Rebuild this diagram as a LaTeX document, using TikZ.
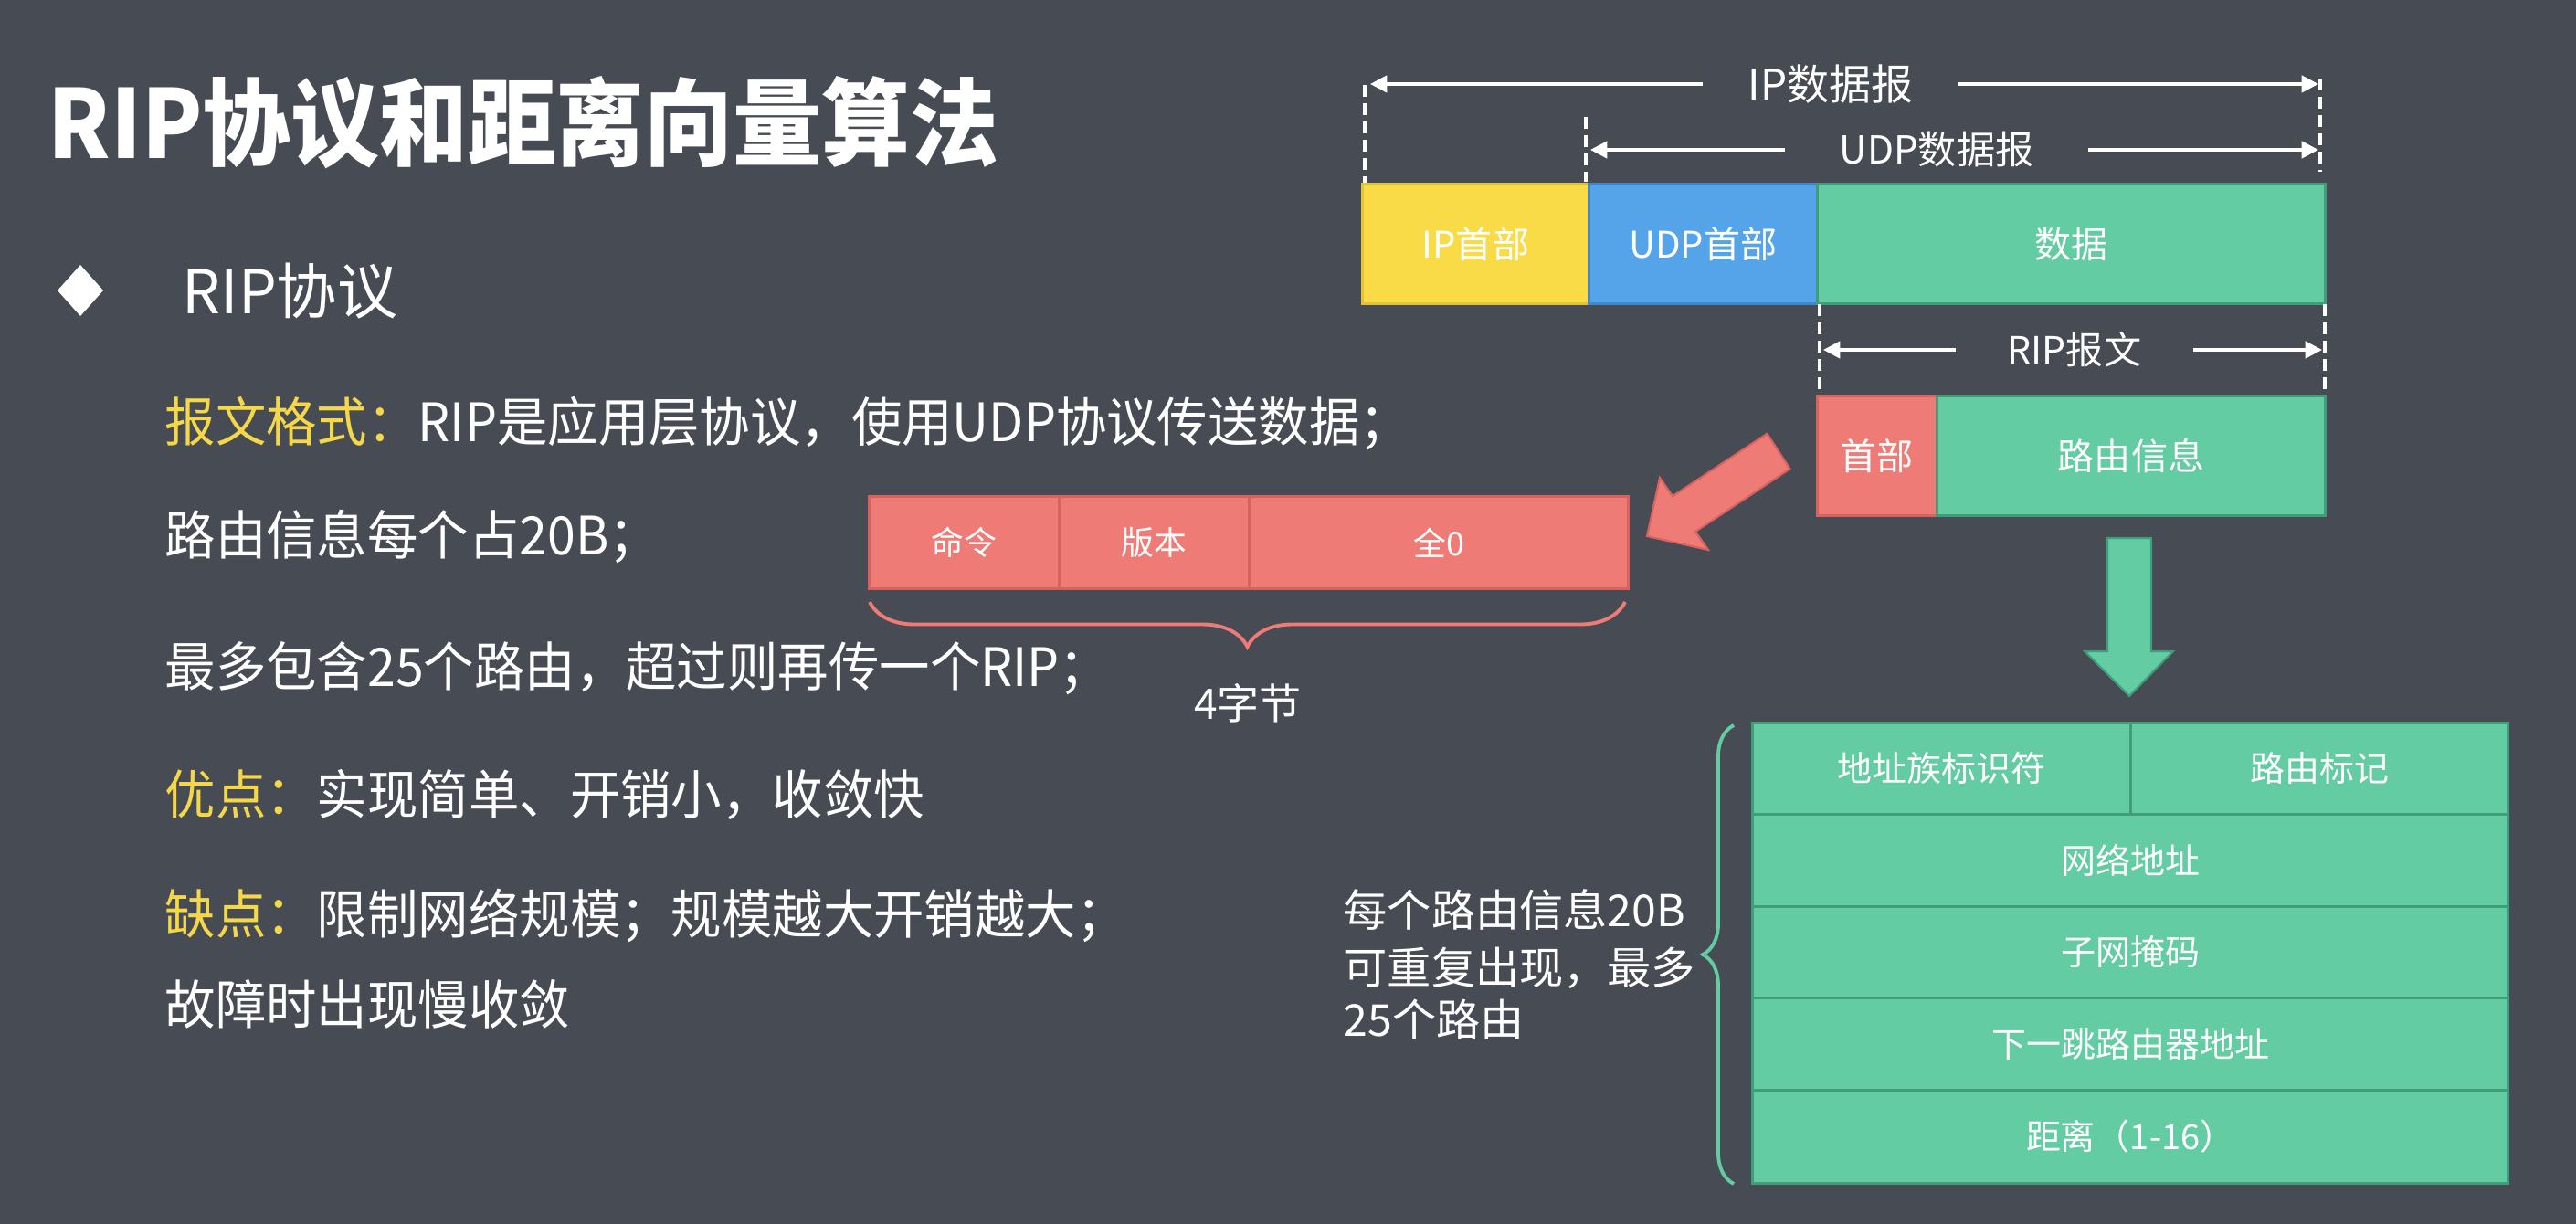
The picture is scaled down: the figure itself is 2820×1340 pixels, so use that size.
\documentclass[tikz,border=0pt]{standalone}
\usepackage{fontspec}
\setmainfont{Noto Sans CJK SC}
\newfontfamily\titlefont{Noto Sans CJK SC}[FakeStretch=0.93]
\newfontfamily\bodyfont{Noto Sans CJK SC}[FakeStretch=0.955]
\usetikzlibrary{decorations.pathreplacing,arrows.meta}
\definecolor{bg}{HTML}{474B53}
\definecolor{ylw}{HTML}{F8DB47}
\definecolor{ylwd}{HTML}{E2C43A}
\definecolor{blu}{HTML}{55A4EA}
\definecolor{blud}{HTML}{3F88CC}
\definecolor{grn}{HTML}{63CCA2}
\definecolor{grnd}{HTML}{3F9D7A}
\definecolor{red}{HTML}{EF7B77}
\definecolor{redd}{HTML}{D8625F}
\definecolor{ytxt}{HTML}{F4D84A}
\begin{document}
\begin{tikzpicture}[x=0.01cm,y=-0.01cm,
  txt/.style={text=white, inner sep=0pt},
  titlestyle/.style={txt, anchor=west, font=\titlefont\fontsize{29.6}{34}\selectfont\bfseries},
  substyle/.style={txt, anchor=west, font=\fontsize{18.8}{22}\selectfont},
  bodystyle/.style={txt, anchor=west, font=\bodyfont\fontsize{16.5}{20}\selectfont},
  cell/.style={draw, line width=0.8pt, inner sep=0pt, anchor=north west, text=white},
  boxtxt/.style={font=\fontsize{11.4}{13}\selectfont},
  cmdtxt/.style={font=\fontsize{10.2}{12}\selectfont},
  tabtxt/.style={font=\fontsize{10.8}{12}\selectfont},
  dimline/.style={white, line width=1pt, {Triangle[length=5.2pt,width=5.2pt]}-{Triangle[length=5.2pt,width=5.2pt]}},
  dimlab/.style={fill=bg, text=white, inner ysep=1pt},
  guide/.style={white, line width=1.15pt, dash pattern=on 3.7pt off 2pt},
]
\fill[bg] (0,0) rectangle (2820,1340);
\useasboundingbox (0,0) rectangle (2820,1340);

% ---------- left text ----------
\node[titlestyle] (title) at (52,134) {RIP协议和距离向量算法};
\fill[white] (88,290) -- (113,318) -- (88,346) -- (63,318) -- cycle;
\node[substyle] (sub) at (199,319) {RIP协议};
\node[bodystyle] (l1) at (180,464) {\textcolor{ytxt}{报文格式：}RIP是应用层协议，使用UDP协议传送数据；};
\node[bodystyle] (l2) at (180,588) {路由信息每个占20B；};
\node[bodystyle] (l3) at (180,732) {最多包含25个路由，超过则再传一个RIP；};
\node[bodystyle] (l4) at (180,870) {\textcolor{ytxt}{优点：}实现简单、开销小，收敛快};
\node[bodystyle] (l5) at (180,1002) {\textcolor{ytxt}{缺点：}限制网络规模；规模越大开销越大；};
\node[bodystyle] (l6) at (180,1099) {故障时出现慢收敛};

% ---------- IP datagram ----------
\node[cell, fill=ylw, draw=ylwd, minimum width=2.48cm, minimum height=1.31cm, boxtxt] (iph) at (1490,200) {IP首部};
\node[cell, fill=blu, draw=blud, minimum width=2.50cm, minimum height=1.31cm, boxtxt] (udph) at (1738,200) {UDP首部};
\node[cell, fill=grn, draw=grnd, minimum width=5.56cm, minimum height=1.31cm, boxtxt] (data) at (1988,200) {数据};

\draw[guide] (1494,93) -- (1494,200);
\draw[guide] (1736,128) -- (1736,199);
\draw[guide] (2540,86) -- (2540,188);

\coordinate (ipL) at (1500,92);
\coordinate (ipR) at (2538,92);
\draw[dimline] (ipL) -- (ipR);
\node[dimlab, inner xsep=0.5cm, font=\fontsize{13.1}{15}\selectfont] (iplab) at (2004,92) {IP数据报};

\coordinate (udpL) at (1741,164);
\coordinate (udpR) at (2538,164);
\draw[dimline] (udpL) -- (udpR);
\node[dimlab, inner xsep=0.6cm, font=\fontsize{12}{14}\selectfont] (udplab) at (2120,164) {UDP数据报};

% ---------- RIP message ----------
\draw[guide] (1992,333) -- (1992,430);
\draw[guide] (2545,333) -- (2545,430);
\coordinate (ripL) at (1996,383);
\coordinate (ripR) at (2542,383);
\draw[dimline] (ripL) -- (ripR);
\node[dimlab, inner xsep=0.57cm, font=\fontsize{11.7}{14}\selectfont] (riplab) at (2271,383) {RIP报文};

\node[cell, fill=red, draw=redd, minimum width=1.31cm, minimum height=1.31cm, boxtxt] (hdr) at (1988,432) {首部};
\node[cell, fill=grn, draw=grnd, minimum width=4.25cm, minimum height=1.31cm, boxtxt] (info) at (2119,432) {路由信息};

% ---------- red arrow ----------
\fill[red, draw=redd, line width=0.6pt, line join=miter]
  (1934.5,474.7) -- (1831,543.2) -- (1817,523) -- (1803,587) -- (1870,602) -- (1856,582) -- (1959.5,513.3) -- cycle;

% ---------- command row ----------
\node[cell, fill=red, draw=redd, minimum width=2.08cm, minimum height=1.01cm, cmdtxt] (cmd) at (950,542) {命令};
\node[cell, fill=red, draw=redd, minimum width=2.08cm, minimum height=1.01cm, cmdtxt] (ver) at (1158,542) {版本};
\node[cell, fill=red, draw=redd, minimum width=4.15cm, minimum height=1.01cm, cmdtxt] (zero) at (1366,542) {全0};
\coordinate (brL) at (952,659);
\coordinate (brR) at (1779,659);
\draw[red, line width=1.1pt, decorate, decoration={brace, amplitude=0.49cm, mirror}] (brL) -- (brR);
\node[txt, font=\fontsize{13.1}{15}\selectfont] (four) at (1366,770) {4字节};

% ---------- green arrow ----------
\fill[grn, draw=grnd, line width=0.6pt]
  (2307,589) -- (2355,589) -- (2355,713) -- (2379,713) -- (2331,762) -- (2282,713) -- (2307,713) -- cycle;

% ---------- route table ----------
\node[cell, fill=grn, draw=grnd, minimum width=4.14cm, minimum height=1.00cm, tabtxt] (afi) at (1917,790) {地址族标识符};
\node[cell, fill=grn, draw=grnd, minimum width=4.13cm, minimum height=1.00cm, tabtxt] (tag) at (2331,790) {路由标记};
\node[cell, fill=grn, draw=grnd, minimum width=8.27cm, minimum height=1.01cm, tabtxt] (net) at (1917,890) {网络地址};
\node[cell, fill=grn, draw=grnd, minimum width=8.27cm, minimum height=1.00cm, tabtxt] (mask) at (1917,991) {子网掩码};
\node[cell, fill=grn, draw=grnd, minimum width=8.27cm, minimum height=1.01cm, tabtxt] (hop) at (1917,1091) {下一跳路由器地址};
\node[cell, fill=grn, draw=grnd, minimum width=8.27cm, minimum height=1.02cm, tabtxt] (dist) at (1917,1192) {距离（1-16）};

\coordinate (gbB) at (1898,1296);
\coordinate (gbT) at (1898,794);
\draw[grn, line width=1.1pt, decorate, decoration={brace, amplitude=0.34cm}] (gbB) -- (gbT);

\node[txt, anchor=west, font=\fontsize{13.7}{16}\selectfont] (n1) at (1470,996) {每个路由信息20B};
\node[txt, anchor=west, font=\fontsize{13.7}{16}\selectfont] (n2) at (1470,1060) {可重复出现，最多};
\node[txt, anchor=west, font=\fontsize{13.7}{16}\selectfont] (n3) at (1470,1116) {25个路由};
\end{tikzpicture}
\end{document}
